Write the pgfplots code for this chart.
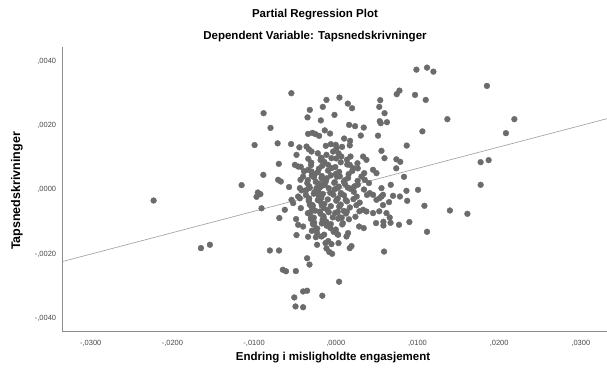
\documentclass[border=0pt]{standalone}
\usepackage{fontspec}
\setmainfont{Liberation Sans}
\usepackage{pgfplots}
\pgfplotsset{compat=1.18}

\definecolor{dotgray}{HTML}{6B6B6B}
\definecolor{fitgray}{HTML}{A6A6A6}
\definecolor{axgray}{HTML}{8C8C8C}
\definecolor{tickgray}{HTML}{4A4A4A}

% Residuals: Endring i misligholdte engasjement (x) vs Tapsnedskrivninger (y)
\pgfplotstableread[row sep=\\]{
x y\\
-0.02230 -0.000334\\ -0.01651 -0.00182\\ -0.01541 -0.001716\\ -0.01153 0.000147\\
-0.00884 0.002393\\ -0.00799 0.001934\\ -0.00994 0.001398\\ -0.00887 0.000468\\
-0.00954 -0.000084\\ -0.00923 -0.000134\\ -0.00970 -0.000218\\ -0.00909 -0.000577\\
-0.00544 0.003017\\ -0.00807 -0.001894\\ -0.00695 -0.001894\\ -0.00648 -0.002496\\
-0.00609 -0.002543\\ -0.00489 -0.002537\\ -0.00351 -0.002137\\ -0.00322 -0.002334\\
0.00040 -0.00287\\ -0.00400 -0.003173\\ -0.00351 -0.003151\\ -0.00508 -0.00336\\
-0.00165 -0.003307\\ -0.00493 -0.003641\\ -0.00400 -0.003666\\ 0.00591 -0.001928\\
-0.00229 -0.001716\\ -0.00114 -0.001831\\ -0.00080 -0.001941\\ -0.00045 -0.001997\\
0.00171 -0.001819\\ 0.00192 -0.001757\\ 0.00033 -0.001663\\ -0.00481 -0.001413\\
-0.00339 -0.001466\\ -0.00691 -0.00088\\ -0.00522 -0.000415\\ 0.00493 -0.001039\\
0.00583 -0.000998\\ 0.00583 -0.001114\\ 0.00670 -0.00103\\ 0.00774 -0.001092\\
0.00901 -0.001005\\ 0.00620 -0.000727\\ 0.00660 -0.000864\\ 0.00532 -0.000671\\
0.01117 -0.00131\\ 0.01085 -0.000499\\ 0.01397 -0.000646\\ 0.01611 -0.000749\\
0.01007 0.000000\\ 0.00865 -0.000031\\ 0.00701 -0.000187\\ 0.00785 -0.000209\\
0.00559 -0.000209\\ 0.00874 -0.000343\\ 0.00652 -0.000384\\ 0.00578 -0.000477\\
0.00673 0.000156\\ 0.01773 0.000156\\ 0.01773 0.000864\\ 0.01871 0.000927\\
0.00835 0.000406\\ 0.00740 0.000671\\ 0.00742 0.000952\\ 0.00789 0.000874\\
0.00596 0.000989\\ 0.00559 0.001217\\ 0.00868 0.001382\\ 0.01060 0.001825\\
0.01366 0.002206\\ 0.02186 0.002206\\ 0.02083 0.001769\\ 0.01850 0.003245\\
0.00987 0.003753\\ 0.01117 0.003816\\ 0.01195 0.003691\\ 0.00779 0.003098\\
0.00746 0.002986\\ 0.00970 0.002964\\ 0.01101 0.002808\\ 0.00544 0.002799\\
0.00532 0.00259\\ 0.00597 0.002393\\ 0.00538 0.002143\\ 0.00550 0.002081\\
0.00626 0.002112\\ 0.00517 0.001691\\ 0.00342 0.001944\\ 0.00236 0.001987\\
0.00163 0.002028\\ 0.00306 0.001694\\ 0.00102 0.001601\\ 0.00175 0.001529\\
0.00171 0.001388\\ -0.00318 0.002496\\ -0.00346 0.002262\\ -0.00114 0.002808\\
-0.00159 0.00259\\ 0.00045 0.00288\\ 0.00147 0.002693\\ 0.00199 0.002549\\
-0.00016 0.00234\\ -0.00183 0.002168\\ -0.00135 0.001856\\ -0.00070 0.001757\\
-0.00339 0.001747\\ -0.00285 0.001778\\ -0.00248 0.001738\\ -0.00204 0.001685\\
-0.00712 0.001451\\ -0.00547 0.001429\\ -0.00446 0.001326\\ -0.00358 0.001351\\
-0.00330 0.001264\\ -0.00122 0.001373\\ -0.00061 0.001426\\ 0.00000 0.001404\\
0.00077 0.001342\\ -0.00697 0.000811\\ -0.00481 0.001092\\ -0.00501 0.00078\\
-0.00461 0.000727\\ -0.00297 0.001195\\ -0.00706 0.000312\\ -0.00673 0.000259\\
-0.00572 0.000087\\ -0.00440 0.000053\\ -0.00419 -0.000016\\ -0.00339 0.000624\\
-0.00297 0.000571\\ -0.00542 -0.000312\\ -0.00461 -0.000209\\ -0.00440 -0.000265\\
-0.00428 -0.000571\\ -0.00318 -0.000468\\ -0.00624 -0.000624\\ -0.00175 0.000365\\
-0.00135 0.000156\\ -0.00094 0.00078\\ -0.00053 0.000989\\ -0.00114 0.001092\\
-0.00175 0.000989\\ -0.00236 0.000053\\ -0.00216 -0.000053\\ -0.00432 0.000312\\
-0.00400 0.000415\\ 0.00180 0.001039\\ 0.00334 0.001039\\ 0.00375 0.000936\\
0.00314 0.000415\\ 0.00355 0.000312\\ 0.00456 0.000624\\ 0.00498 0.000521\\
0.00559 0.000053\\ 0.00578 -0.000156\\ 0.00538 -0.000259\\ 0.00498 -0.000312\\
0.00416 -0.000103\\ 0.00456 -0.000156\\ 0.00334 -0.000624\\ 0.00375 -0.000677\\
0.00456 -0.000727\\ 0.00171 0.00078\\ 0.00212 0.000677\\ 0.00009 0.001301\\
-0.00033 0.001195\\ 0.00285 -0.001145\\ 0.00342 -0.001195\\ 0.00131 -0.001457\\
0.00150 -0.001351\\ 0.00028 -0.001404\\ -0.00053 -0.001694\\ -0.00126 -0.001663\\
-0.00175 -0.001457\\ -0.00229 -0.001351\\ -0.00486 -0.000914\\ -0.00461 -0.001092\\
-0.00400 -0.001145\\
-0.00220 0.00114\\ -0.00179 0.00100\\ 0.00034 0.00114\\ 0.00068 0.00104\\
-0.00337 0.00097\\ -0.00301 0.00085\\ -0.00186 0.00093\\ -0.00140 0.00087\\
0.00006 0.00098\\ 0.00061 0.00086\\ 0.00137 0.00094\\ 0.00265 0.00083\\
-0.00429 0.00072\\ -0.00303 0.00077\\ -0.00207 0.00066\\ -0.00167 0.00075\\
-0.00051 0.00068\\ -0.00006 0.00071\\ 0.00140 0.00079\\ 0.00269 0.00067\\
-0.00389 0.00058\\ -0.00261 0.00047\\ -0.00221 0.00055\\ -0.00095 0.00060\\
0.00001 0.00050\\ 0.00041 0.00056\\ 0.00157 0.00049\\ 0.00202 0.00059\\
0.00348 0.00052\\
-0.00342 0.00030\\ -0.00267 0.00039\\ -0.00151 0.00029\\ -0.00111 0.00036\\
0.00015 0.00041\\ 0.00111 0.00030\\ 0.00151 0.00037\\ 0.00267 0.00028\\
-0.00349 0.00021\\ -0.00326 0.00011\\ -0.00210 0.00019\\ -0.00165 0.00013\\
-0.00019 0.00022\\ 0.00037 0.00010\\ 0.00112 0.00018\\ 0.00228 0.00011\\
0.00269 0.00016\\ 0.00406 0.00021\\
-0.00362 -0.00001\\ -0.00259 -0.00007\\ -0.00213 0.00001\\ -0.00068 -0.00009\\
-0.00012 0.00002\\ 0.00063 -0.00010\\ 0.00179 0.00003\\ 0.00220 -0.00006\\
0.00345 0.00001\\
-0.00366 -0.00016\\ -0.00326 -0.00027\\ -0.00210 -0.00019\\ -0.00177 -0.00025\\
-0.00031 -0.00015\\ 0.00024 -0.00027\\ 0.00100 -0.00017\\ 0.00216 -0.00029\\
0.00256 -0.00021\\ 0.00382 -0.00016\\
-0.00330 -0.00035\\ -0.00289 -0.00047\\ -0.00186 -0.00038\\ -0.00140 -0.00044\\
0.00006 -0.00034\\ 0.00061 -0.00046\\ 0.00137 -0.00036\\ 0.00252 -0.00048\\
0.00293 -0.00040\\
-0.00293 -0.00054\\ -0.00252 -0.00065\\ -0.00149 -0.00057\\ -0.00103 -0.00063\\
0.00042 -0.00053\\ 0.00098 -0.00066\\ 0.00173 -0.00055\\ 0.00289 -0.00067\\
-0.00342 -0.00073\\ -0.00301 -0.00085\\ -0.00186 -0.00075\\ -0.00152 -0.00082\\
-0.00007 -0.00072\\ 0.00049 -0.00086\\ 0.00125 -0.00074\\ 0.00240 -0.00084\\
-0.00305 -0.00091\\ -0.00265 -0.00102\\ -0.00161 -0.00093\\ -0.00116 -0.00100\\
0.00030 -0.00090\\ 0.00086 -0.00104\\ 0.00161 -0.00092\\
-0.00269 -0.00109\\ -0.00228 -0.00121\\ -0.00112 -0.00112\\ -0.00067 -0.00119\\
0.00079 -0.00108\\
-0.00293 -0.00128\\ -0.00142 -0.00140\\ -0.00027 -0.00131\\ 0.00019 -0.00138\\
-0.00244 -0.00148\\ -0.00093 -0.00160\\
-0.00294 0.00044\\ -0.00171 0.00043\\ -0.00061 0.00045\\ 0.00049 0.00042\\
-0.00245 0.00025\\ -0.00122 0.00026\\ -0.00012 0.00024\\ 0.00098 0.00025\\
-0.00318 0.00006\\ -0.00196 0.00007\\ -0.00086 0.00005\\ 0.00024 0.00006\\
0.00147 0.00007\\
-0.00269 -0.00012\\ -0.00159 -0.00013\\ -0.00049 -0.00011\\ 0.00061 -0.00013\\
-0.00330 -0.00031\\ -0.00220 -0.00032\\ -0.00098 -0.00030\\ 0.00012 -0.00031\\
0.00122 -0.00032\\
-0.00281 -0.00050\\ -0.00171 -0.00049\\ -0.00061 -0.00051\\ 0.00049 -0.00050\\
-0.00306 -0.00069\\ -0.00196 -0.00068\\ -0.00086 -0.00070\\ 0.00024 -0.00069\\
0.00135 -0.00068\\
-0.00269 -0.00087\\ -0.00147 -0.00088\\ -0.00037 -0.00086\\ 0.00073 -0.00087\\
-0.00281 -0.00106\\ -0.00171 -0.00105\\ -0.00061 -0.00107\\
-0.00245 -0.00125\\ 0.00000 -0.00124\\
}\residuals

\begin{document}
\begin{tikzpicture}
\useasboundingbox (0pt,0pt) rectangle (607pt,374pt);
\begin{axis}[
  at={(62.7pt,42.3pt)}, anchor=south west,
  scale only axis, width=544.3pt, height=284.7pt,
  xmin=-0.03343, xmax=0.0332,
  ymin=-0.00443, ymax=0.00446,
  axis x line*=bottom, axis y line*=left,
  axis line style={axgray, line width=0.6pt},
  scaled ticks=false,
  xtick={-0.03,-0.02,-0.01,0,0.01,0.02,0.03},
  xticklabels={{-,0300},{-,0200},{-,0100},{,0000},{,0100},{,0200},{,0300}},
  ytick={-0.004,-0.002,0,0.002,0.004},
  yticklabels={{-,0040},{-,0020},{,0000},{,0020},{,0040}},
  major tick length=0pt,
  tick label style={font=\fontsize{7.5}{9}\selectfont, text=tickgray},
  xticklabel style={yshift=-5pt},
  yticklabel style={xshift=-3pt},
  clip=true,
]
\addplot[only marks, mark=*, mark size=2.9pt, color=dotgray,
  mark options={draw=dotgray, fill=dotgray}] table {\residuals};
% fitted line through the origin of the residual plot
\addplot[no marks, color=fitgray, line width=0.7pt]
  coordinates {(-0.03343,-0.002237) (0.0334,0.002235)};
\end{axis}
\node[font=\bfseries\fontsize{11.5}{14}\selectfont] at (315pt,359pt) {Partial Regression Plot};
\node[font=\bfseries\fontsize{11.5}{14}\selectfont] at (315pt,337pt) {Dependent Variable: Tapsnedskrivninger};
\node[font=\bfseries\fontsize{11.5}{14}\selectfont] at (333pt,16pt) {Endring i misligholdte engasjement};
\node[font=\bfseries\fontsize{12.5}{15}\selectfont, rotate=90] at (17pt,183pt) {Tapsnedskrivninger};
\end{tikzpicture}
\end{document}
